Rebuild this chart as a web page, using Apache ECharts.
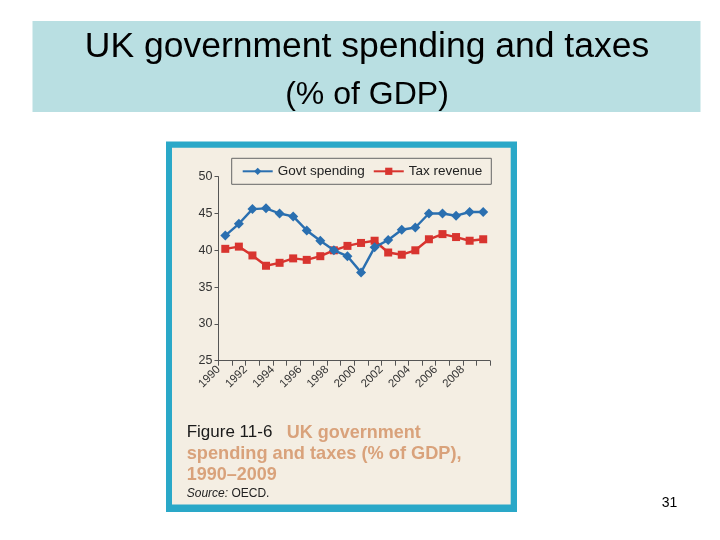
<!DOCTYPE html>
<html>
<head>
<meta charset="utf-8">
<script src="https://cdn.jsdelivr.net/npm/echarts@6/dist/echarts.min.js"></script>
<style>
html,body{margin:0;padding:0;background:#ffffff;}
#chart{width:720px;height:540px;}
</style>
</head>
<body>
<div id="chart"></div>
<script>
const years = ['1990','1991','1992','1993','1994','1995','1996','1997','1998','1999',
               '2000','2001','2002','2003','2004','2005','2006','2007','2008','2009'];
const govtSpending = [42.0,43.6,45.6,45.7,45.0,44.6,42.7,41.3,40.0,39.2,
                      37.0,40.4,41.4,42.8,43.1,45.0,45.0,44.7,45.2,45.2];
const taxRevenue   = [40.2,40.5,39.3,37.9,38.3,38.9,38.7,39.2,40.0,40.6,
                      41.0,41.3,39.7,39.4,40.0,41.5,42.2,41.8,41.3,41.5];
// tick positions sit on the year boundaries (1990 ... 2010); labels every other year
const tickYears = ['1990','1991','1992','1993','1994','1995','1996','1997','1998','1999',
                   '2000','2001','2002','2003','2004','2005','2006','2007','2008','2009','2010'];
const tickLabels = ['1990','1992','1994','1996','1998','2000','2002','2004','2006','2008'];
const yTicks = [25,30,35,40,45,50];
const seriesNames = ['Govt spending','Tax revenue'];
const slideTitle = 'UK government spending and taxes';
const slideSubtitle = '(% of GDP)';

const FONT = '"Liberation Sans", Arial, Helvetica, sans-serif';
const BLUE = '#2a6fb0';
const RED = '#d8342f';
const TAN = '#d9a27b';

const chart = echarts.init(document.getElementById('chart'), null, {renderer:'canvas'});

const option = {
  backgroundColor: '#ffffff',
  animation: false,
  textStyle: {fontFamily: FONT},
  graphic: [
    {type:'rect', z:-10, silent:true, shape:{x:32.5, y:21, width:668, height:91}, style:{fill:'#b9dfe2'}},
    {type:'text', z:-5, silent:true, x:367, y:47.5, style:{text:slideTitle, fontFamily:FONT, fontSize:35.5, fill:'#000', align:'center', verticalAlign:'middle'}},
    {type:'text', z:-5, silent:true, x:367, y:95.5, style:{text:slideSubtitle, fontFamily:FONT, fontSize:32, fill:'#000', align:'center', verticalAlign:'middle'}},
    {type:'rect', z:-10, silent:true, shape:{x:166, y:141.5, width:351, height:370.5}, style:{fill:'#2aa8c8'}},
    {type:'rect', z:-9, silent:true, shape:{x:172, y:147.7, width:338.7, height:356.8}, style:{fill:'#f4eee3'}},
    {type:'text', z:-5, silent:true, x:186.7, y:424, style:{text:'Figure 11-6', fontFamily:FONT, fontSize:17, fill:'#1a1a1a', align:'left', verticalAlign:'alphabetic'}},
    {type:'text', z:-5, silent:true, x:286.7, y:424, style:{text:'UK government', fontFamily:FONT, fontSize:18, fontWeight:'bold', fill:TAN, align:'left', verticalAlign:'alphabetic'}},
    {type:'text', z:-5, silent:true, x:186.7, y:445, style:{text:'spending and taxes (% of GDP),', fontFamily:FONT, fontSize:18.2, fontWeight:'bold', fill:TAN, align:'left', verticalAlign:'alphabetic'}},
    {type:'text', z:-5, silent:true, x:186.7, y:466.5, style:{text:'1990\u20132009', fontFamily:FONT, fontSize:18, fontWeight:'bold', fill:TAN, align:'left', verticalAlign:'alphabetic'}},
    {type:'text', z:-5, silent:true, x:186.7, y:488, style:{
      text:'{i|Source:} OECD.', fontFamily:FONT, fontSize:12, fill:'#222', align:'left', verticalAlign:'alphabetic',
      rich:{i:{fontStyle:'italic', fontFamily:FONT, fontSize:12, fill:'#222'}}}},
    {type:'text', z:-5, silent:true, x:669.5, y:503, style:{text:'31', fontFamily:FONT, fontSize:14, fill:'#000', align:'center', verticalAlign:'middle'}}
  ],
  legend: {
    left: 231.7, top: 158.3,
    orient: 'horizontal',
    backgroundColor: '#f4eee3',
    borderColor: '#666',
    borderWidth: 1,
    padding: [6, 9, 6, 10],
    itemGap: 8,
    itemWidth: 30,
    itemHeight: 9,
    textStyle: {fontFamily: FONT, fontSize: 13.5, color:'#222'},
    data: seriesNames
  },
  grid: {left: 218.5, top: 176.7, width: 271.5, height: 184, containLabel: false},
  xAxis: [
    {
      type: 'category',
      data: years,
      boundaryGap: true,
      position: 'bottom',
      axisLine: {show: true, lineStyle: {color:'#555', width:1}},
      axisTick: {show: true, interval: 0, length: 5, inside: false, lineStyle:{color:'#555'}},
      axisLabel: {show: false},
      splitLine: {show:false}
    },
    {
      type: 'category',
      data: tickYears,
      boundaryGap: false,
      position: 'bottom',
      offset: 0,
      axisLine: {show: false},
      axisTick: {show: false},
      axisLabel: {
        interval: 0, rotate: 45, margin: 7, fontFamily: FONT, fontSize: 11.5, color:'#333',
        formatter: function (v) { return tickLabels.indexOf(v) >= 0 ? v : ''; }
      },
      splitLine: {show:false}
    }
  ],
  yAxis: {
    type: 'value',
    min: yTicks[0], max: yTicks[yTicks.length-1], interval: 5,
    axisLine: {show: true, lineStyle: {color:'#555', width:1}},
    axisTick: {show: true, length: 4, lineStyle:{color:'#555'}},
    axisLabel: {margin: 6, fontFamily: FONT, fontSize: 12.5, color:'#333'},
    splitLine: {show:false}
  },
  series: [
    {
      name: seriesNames[0], type: 'line', data: govtSpending, xAxisIndex: 0,
      symbol: 'diamond', symbolSize: [10,10], showAllSymbol: true,
      lineStyle: {color: BLUE, width: 2.4},
      itemStyle: {color: BLUE},
      z: 3
    },
    {
      name: seriesNames[1], type: 'line', data: taxRevenue, xAxisIndex: 0,
      symbol: 'rect', symbolSize: 8, showAllSymbol: true,
      lineStyle: {color: RED, width: 2.4},
      itemStyle: {color: RED},
      z: 2
    }
  ]
};
chart.setOption(option);
</script>
</body>
</html>
